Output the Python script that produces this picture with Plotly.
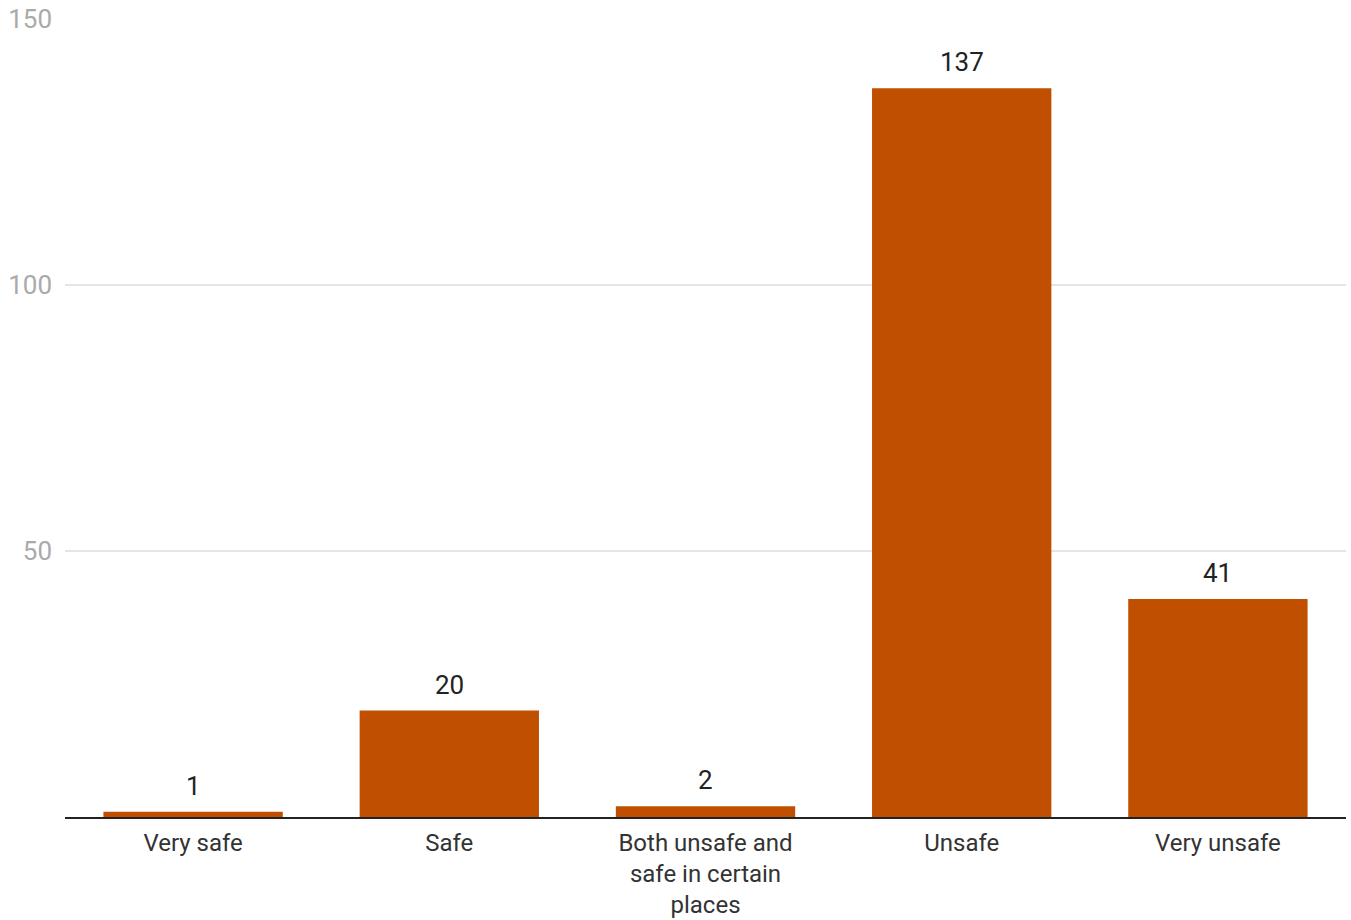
import plotly.graph_objects as go

categories = ["Very safe", "Safe", "Both unsafe and<br>safe in certain<br>places", "Unsafe", "Very unsafe"]
values = [1, 20, 2, 137, 41]
y_ticks = [0, 50, 100, 150]
y_tick_labels = ["", "50", "100", "150"]

BAR_COLOR = "#C05000"
FONT = "Roboto"

fig = go.Figure()
fig.add_trace(go.Bar(
    x=categories,
    y=values,
    marker=dict(color=BAR_COLOR, line=dict(width=0)),
    hoverinfo="x+y",
))

for c, v in zip(categories, values):
    fig.add_annotation(
        x=c, y=v, text=str(v), showarrow=False,
        yanchor="bottom", yshift=9,
        font=dict(family=FONT, size=26, color="#222222"),
    )

fig.update_layout(
    width=1351, height=920,
    margin=dict(l=65, r=5, t=19, b=103),
    paper_bgcolor="white",
    plot_bgcolor="white",
    bargap=0.3,
    showlegend=False,
    font=dict(family=FONT, size=26, color="#333333"),
)
fig.update_xaxes(
    showgrid=False, automargin=False,
    showline=True, linecolor="#222222", linewidth=2,
    ticks="", tickfont=dict(family=FONT, size=24, color="#333333"),
    ticklabelstandoff=3,
)
fig.update_yaxes(
    range=[0, 150], automargin=False,
    tickvals=y_ticks, ticktext=y_tick_labels,
    showgrid=True, gridcolor="#e5e5e5", gridwidth=2,
    zeroline=False, showline=False,
    ticks="", tickfont=dict(family=FONT, size=26, color="#aaaaaa"),
    ticklabelstandoff=12,
)

fig.write_html("out.html")
